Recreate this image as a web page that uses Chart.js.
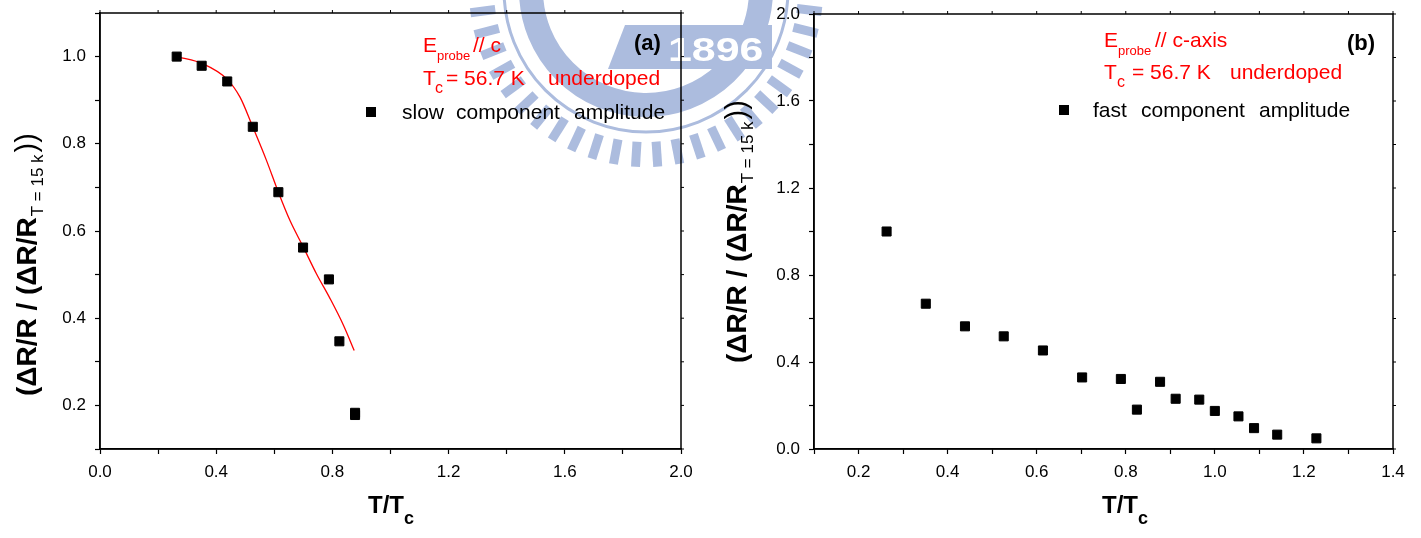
<!DOCTYPE html>
<html>
<head>
<meta charset="utf-8">
<script src="https://cdn.jsdelivr.net/npm/chart.js@4.4.0/dist/chart.umd.min.js"></script>
<style>
  html, body { margin: 0; padding: 0; background: #fff; }
  #wrap { position: relative; width: 1421px; height: 538px; overflow: hidden; }
  canvas { position: absolute; top: 0; }
  #bg { left: 0; }
  #chartA { left: 0; }
  #chartB { left: 710px; }
</style>
</head>
<body>
<div id="wrap">
  <canvas id="bg" width="1421" height="538"></canvas>
  <canvas id="chartA" width="710" height="538"></canvas>
  <canvas id="chartB" width="711" height="538"></canvas>
</div>
<script>
// panel (a): slow component amplitude vs T/Tc
var slowT   = [0.264, 0.350, 0.438, 0.526, 0.614, 0.699, 0.788, 0.824, 0.878, 0.878];
var slowAmp = [1.000, 0.979, 0.943, 0.839, 0.689, 0.562, 0.489, 0.347, 0.183, 0.178];
// red fit line
var fitT    = [0.264, 0.356, 0.436, 0.482, 0.525, 0.573, 0.614, 0.654, 0.700, 0.745, 0.792, 0.838, 0.875];
var fitAmp  = [1.000, 0.983, 0.949, 0.907, 0.840, 0.762, 0.689, 0.624, 0.563, 0.502, 0.445, 0.384, 0.326];
// panel (b): fast component amplitude vs T/Tc
var fastT   = [0.263, 0.351, 0.439, 0.526, 0.614, 0.702, 0.789, 0.825, 0.877, 0.912, 0.965, 1.000, 1.053, 1.088, 1.140, 1.228];
var fastAmp = [1.000, 0.668, 0.564, 0.518, 0.453, 0.329, 0.322, 0.181, 0.309, 0.231, 0.227, 0.175, 0.150, 0.096, 0.066, 0.049];
// labelled ticks
var xLabelsA = [0.0, 0.4, 0.8, 1.2, 1.6, 2.0];
var yLabelsA = [0.2, 0.4, 0.6, 0.8, 1.0];
var xLabelsB = [0.2, 0.4, 0.6, 0.8, 1.0, 1.2, 1.4];
var yLabelsB = [0.0, 0.4, 0.8, 1.2, 1.6, 2.0];

var FONT = '"Liberation Sans", Arial, sans-serif';
Chart.defaults.font.family = FONT;
Chart.defaults.color = '#000';

function pts(xs, ys) {
  return xs.map(function (x, i) { return { x: x, y: ys[i] }; });
}

function axis(pos, min, max, step, labels, pad, size) {
  return {
    type: 'linear', position: pos, min: min, max: max,
    grid: { drawOnChartArea: false, drawTicks: true, tickLength: 5, tickColor: '#000', tickWidth: 1.2 },
    border: { display: true, color: '#000', width: 1.5 },
    ticks: {
      stepSize: step, autoSkip: false, maxRotation: 0, padding: pad, color: '#000',
      font: { size: 17 },
      callback: function (v) {
        return labels.some(function (m) { return Math.abs(m - v) < 1e-6; }) ? v.toFixed(1) : '';
      }
    },
    afterFit: function (s) {
      if (pos === 'left') s.width = size; else s.height = size;
      // let layout.padding alone place the plot box
      s.paddingTop = 0; s.paddingBottom = 0; s.paddingLeft = 0; s.paddingRight = 0;
    }
  };
}

// frame with small outside ticks on top and right
var framePlugin = {
  id: 'frame',
  afterDraw: function (chart) {
    var ctx = chart.ctx, a = chart.chartArea, xs = chart.scales.x, ys = chart.scales.y;
    ctx.save();
    ctx.strokeStyle = '#000';
    ctx.lineWidth = 1.5;
    ctx.strokeRect(a.left, a.top, a.right - a.left, a.bottom - a.top);
    ctx.lineWidth = 1;
    ctx.beginPath();
    xs.ticks.forEach(function (t) {
      var p = xs.getPixelForValue(t.value);
      ctx.moveTo(p, a.top); ctx.lineTo(p, a.top - 3);
    });
    ys.ticks.forEach(function (t) {
      var p = ys.getPixelForValue(t.value);
      ctx.moveTo(a.right, p); ctx.lineTo(a.right + 3, p);
    });
    ctx.stroke();
    ctx.restore();
  }
};

function txt(ctx, s, x, y, font, color) {
  ctx.font = font;
  ctx.fillStyle = color || '#000';
  ctx.fillText(s, x, y);
}

function yTitle(ctx, x, y) {
  ctx.save();
  ctx.translate(x, y);
  ctx.rotate(-Math.PI / 2);
  ctx.textAlign = 'left';
  ctx.textBaseline = 'alphabetic';
  ctx.fillStyle = '#000';
  var main = '(\u0394R/R / (\u0394R/R';
  ctx.font = 'bold 28px ' + FONT;
  ctx.fillText(main, 0, 0);
  var w = ctx.measureText(main).width;
  ctx.font = '17px ' + FONT;
  ctx.fillText('T = 15 k', w + 1, 7);
  var w2 = ctx.measureText('T = 15 k').width;
  ctx.font = '29px ' + FONT;
  ctx.fillText('))', w + w2 + 3, 0);
  ctx.restore();
}

function xTitle(ctx, x, y) {
  txt(ctx, 'T/T', x, y, 'bold 24px ' + FONT);
  var w = ctx.measureText('T/T').width;
  txt(ctx, 'c', x + w, y + 11, 'bold 18px ' + FONT);
}

function square(ctx, x, y) {
  ctx.fillStyle = '#000';
  ctx.fillRect(x - 5, y - 5, 10, 10);
}

var notesA = {
  id: 'notesA',
  afterDraw: function (chart) {
    var ctx = chart.ctx, red = '#ff0000';
    ctx.save();
    ctx.textBaseline = 'alphabetic';
    txt(ctx, 'E', 423, 52, '21px ' + FONT, red);
    txt(ctx, 'probe', 437, 60, '13px ' + FONT, red);
    txt(ctx, '// c', 473, 52, '21px ' + FONT, red);
    txt(ctx, 'T', 423, 85, '21px ' + FONT, red);
    txt(ctx, 'c', 435, 93, '16px ' + FONT, red);
    txt(ctx, '= 56.7 K', 446, 85, '21px ' + FONT, red);
    txt(ctx, 'underdoped', 548, 85, '21px ' + FONT, red);
    txt(ctx, '(a)', 634, 50, 'bold 22px ' + FONT);
    square(ctx, 371, 112);
    txt(ctx, 'slow', 402, 119, '21px ' + FONT);
    txt(ctx, 'component', 456, 119, '21px ' + FONT);
    txt(ctx, 'amplitude', 574, 119, '21px ' + FONT);
    yTitle(ctx, 36, 396);
    xTitle(ctx, 368, 513);
    ctx.restore();
  }
};

var notesB = {
  id: 'notesB',
  afterDraw: function (chart) {
    var ctx = chart.ctx, red = '#ff0000';
    ctx.save();
    ctx.textBaseline = 'alphabetic';
    txt(ctx, 'E', 394, 47, '21px ' + FONT, red);
    txt(ctx, 'probe', 408, 55, '13px ' + FONT, red);
    txt(ctx, '// c-axis', 445, 47, '21px ' + FONT, red);
    txt(ctx, 'T', 394, 79, '21px ' + FONT, red);
    txt(ctx, 'c', 407, 87, '16px ' + FONT, red);
    txt(ctx, '= 56.7 K', 422, 79, '21px ' + FONT, red);
    txt(ctx, 'underdoped', 520, 79, '21px ' + FONT, red);
    txt(ctx, '(b)', 637, 50, 'bold 22px ' + FONT);
    square(ctx, 354, 110);
    txt(ctx, 'fast', 383, 117, '21px ' + FONT);
    txt(ctx, 'component', 431, 117, '21px ' + FONT);
    txt(ctx, 'amplitude', 549, 117, '21px ' + FONT);
    yTitle(ctx, 36, 363);
    xTitle(ctx, 392, 513);
    ctx.restore();
  }
};

function pointSet(data) {
  return {
    data: data, showLine: false, pointStyle: 'rect', pointRadius: 6.4,
    backgroundColor: '#000', borderColor: '#000', borderWidth: 1
  };
}

new Chart(document.getElementById('chartA'), {
  type: 'scatter',
  data: {
    datasets: [
      pointSet(pts(slowT, slowAmp)),
      {
        data: pts(fitT, fitAmp), showLine: true, pointRadius: 0,
        borderColor: '#ff0000', borderWidth: 1.3, cubicInterpolationMode: 'monotone', fill: false
      }
    ]
  },
  options: {
    responsive: false, animation: false,
    layout: { padding: { left: 40, right: 29, top: 13, bottom: 0 } },
    plugins: { legend: { display: false }, tooltip: { enabled: false } },
    scales: {
      x: axis('bottom', 0, 2, 0.2, xLabelsA, 8, 89),
      y: axis('left', 0.1, 1.1, 0.1, yLabelsA, 9, 60)
    }
  },
  plugins: [framePlugin, notesA]
});

new Chart(document.getElementById('chartB'), {
  type: 'scatter',
  data: { datasets: [pointSet(pts(fastT, fastAmp))] },
  options: {
    responsive: false, animation: false,
    layout: { padding: { left: 44, right: 28, top: 14, bottom: 0 } },
    plugins: { legend: { display: false }, tooltip: { enabled: false } },
    scales: {
      x: axis('bottom', 0.1, 1.4, 0.1, xLabelsB, 8, 89),
      y: axis('left', 0, 2, 0.2, yLabelsB, 9, 60)
    }
  },
  plugins: [framePlugin, notesB]
});

// faint university emblem behind the plots
(function () {
  var ctx = document.getElementById('bg').getContext('2d');
  var cx = 646, cy = -10, blue = 'rgb(172,188,222)';
  ctx.fillStyle = blue;
  ctx.strokeStyle = blue;
  for (var a = 7; a <= 173; a += 7.2) {
    ctx.save();
    ctx.translate(cx, cy);
    ctx.rotate(a * Math.PI / 180);
    ctx.fillRect(152, -4.5, 25, 9);
    ctx.restore();
  }
  ctx.lineWidth = 3;
  ctx.beginPath(); ctx.arc(cx, cy, 142, 0, Math.PI); ctx.stroke();
  ctx.lineWidth = 24;
  ctx.beginPath(); ctx.arc(cx, cy, 115, 0.02, Math.PI - 0.02); ctx.stroke();
  ctx.beginPath();
  ctx.moveTo(625, 25); ctx.lineTo(772, 25); ctx.lineTo(772, 69); ctx.lineTo(608, 69);
  ctx.closePath(); ctx.fill();
  ctx.save();
  ctx.fillStyle = '#fff';
  ctx.font = 'bold 33px ' + FONT;
  ctx.translate(668, 61);
  ctx.scale(1.3, 1);
  ctx.fillText('1896', 0, 0);
  ctx.restore();
})();
</script>
</body>
</html>
